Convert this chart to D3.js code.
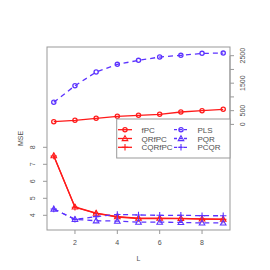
<!DOCTYPE html>
<html>
<head>
<meta charset="utf-8">
<script src="https://cdn.jsdelivr.net/npm/d3@7"></script>
<style>
  body { margin: 0; background: #fff; }
  text { font-family: "Liberation Sans", Arial, sans-serif; fill: #505050; }
</style>
</head>
<body>
<div id="chart"></div>
<script>
// MSE against number of components L

var L = [1, 2, 3, 4, 5, 6, 7, 8, 9];

// upper group, right axis
var fPC = [98, 149, 222, 295, 331, 367, 451, 498, 549];
var PLS = [804, 1407, 1905, 2185, 2331, 2451, 2513, 2585, 2595];

// lower group, left axis
var QRfPC = [7.51, 4.49, 4.13, 3.92, 3.83, 3.83, 3.82, 3.79, 3.78];
var CQRfPC = [7.49, 4.47, 4.11, 3.90, 3.81, 3.81, 3.80, 3.77, 3.76];
var PQR = [4.37, 3.76, 3.68, 3.66, 3.60, 3.60, 3.58, 3.55, 3.55];
var PCQR = [4.37, 3.76, 3.92, 4.05, 4.02, 4.00, 4.00, 3.98, 3.97];

var xTicks = [2, 4, 6, 8];
var leftTicks = [4, 5, 6, 7, 8];
var rightTicks = [0, 500, 1000, 1500, 2000, 2500];
var rightLabels = [0, 500, 1500, 2500];

var RED = "#ff1a1a";
var BLUE = "#5c33ff";

var W = 270, H = 270;
var box = { left: 47, right: 230, top: 47, bottom: 230 };

var svg = d3.select("#chart").append("svg")
  .attr("width", W)
  .attr("height", H);

var x = d3.scaleLinear().domain([0.68, 9.32]).range([box.left, box.right]);
var yL = d3.scaleLinear().domain([4, 8]).range([215.3, 147.3]);
var yR = d3.scaleLinear().domain([0, 2500]).range([124.4, 55.7]);

var series = [
  { name: "fPC", vals: fPC, y: yR, col: RED, dash: null, pch: "circle" },
  { name: "PLS", vals: PLS, y: yR, col: BLUE, dash: "5,4", pch: "circle" },
  { name: "QRfPC", vals: QRfPC, y: yL, col: RED, dash: null, pch: "triangle" },
  { name: "CQRfPC", vals: CQRfPC, y: yL, col: RED, dash: null, pch: "plus" },
  { name: "PQR", vals: PQR, y: yL, col: BLUE, dash: "5,4", pch: "triangle" },
  { name: "PCQR", vals: PCQR, y: yL, col: BLUE, dash: "5,4", pch: "plus" }
];

function drawSymbol(g, pch, cx, cy, col) {
  if (pch == "circle") {
    g.append("circle").attr("cx", cx).attr("cy", cy).attr("r", 2.1)
      .attr("fill", "none").attr("stroke", col).attr("stroke-width", 1.3);
  } else if (pch == "triangle") {
    var s = 2.8;
    g.append("path")
      .attr("d", "M" + cx + "," + (cy - s) + "L" + (cx + s) + "," + (cy + s * 0.75) +
        "L" + (cx - s) + "," + (cy + s * 0.75) + "Z")
      .attr("fill", "none").attr("stroke", col).attr("stroke-width", 1.1);
  } else {
    var p = 3.2;
    g.append("path")
      .attr("d", "M" + (cx - p) + "," + cy + "H" + (cx + p) + "M" + cx + "," + (cy - p) + "V" + (cy + p))
      .attr("stroke", col).attr("stroke-width", 1.1);
  }
}

// lines and points
series.forEach(function (s) {
  var g = svg.append("g");
  var line = d3.line()
    .x(function (d, i) { return x(L[i]); })
    .y(function (d) { return s.y(d); });
  g.append("path")
    .attr("d", line(s.vals))
    .attr("fill", "none")
    .attr("stroke", s.col)
    .attr("stroke-width", 1.3)
    .attr("stroke-dasharray", s.dash);
  s.vals.forEach(function (v, i) {
    drawSymbol(g, s.pch, x(L[i]), s.y(v), s.col);
  });
});

// box
svg.append("rect")
  .attr("x", box.left).attr("y", box.top)
  .attr("width", box.right - box.left).attr("height", box.bottom - box.top)
  .attr("fill", "none").attr("stroke", "#999").attr("stroke-width", 1);

// bottom axis
var bAxis = svg.append("g");
xTicks.forEach(function (t) {
  bAxis.append("line").attr("x1", x(t)).attr("x2", x(t))
    .attr("y1", box.bottom).attr("y2", box.bottom + 4).attr("stroke", "#999");
  bAxis.append("text").attr("x", x(t)).attr("y", 245)
    .attr("text-anchor", "middle").attr("font-size", "7px").text(t);
});

// left axis
var lAxis = svg.append("g");
leftTicks.forEach(function (t) {
  lAxis.append("line").attr("x1", box.left - 4).attr("x2", box.left)
    .attr("y1", yL(t)).attr("y2", yL(t)).attr("stroke", "#999");
  lAxis.append("text")
    .attr("transform", "translate(35," + yL(t) + ") rotate(-90)")
    .attr("text-anchor", "middle").attr("font-size", "7px").text(t);
});

// right axis
var rAxis = svg.append("g");
rAxis.append("line").attr("x1", box.right).attr("x2", box.right)
  .attr("y1", yR(0)).attr("y2", yR(2500)).attr("stroke", "#999");
rightTicks.forEach(function (t) {
  rAxis.append("line").attr("x1", box.right).attr("x2", box.right + 4)
    .attr("y1", yR(t)).attr("y2", yR(t)).attr("stroke", "#999");
});
rightLabels.forEach(function (t) {
  rAxis.append("text")
    .attr("transform", "translate(245," + yR(t) + ") rotate(-90)")
    .attr("text-anchor", "middle").attr("font-size", "7px").text(t);
});

// axis titles
svg.append("text").attr("x", (box.left + box.right) / 2).attr("y", 261)
  .attr("text-anchor", "middle").attr("font-size", "7px").text("L");
svg.append("text")
  .attr("transform", "translate(23," + (box.top + box.bottom) / 2 + ") rotate(-90)")
  .attr("text-anchor", "middle").attr("font-size", "7px").text("MSE");

// legend
var leg = svg.append("g");
leg.append("rect")
  .attr("x", 116.7).attr("y", 119).attr("width", box.right - 116.7).attr("height", 39)
  .attr("fill", "#fff").attr("stroke", "#999");

var legCols = [
  [series[0], series[2], series[3]],
  [series[1], series[4], series[5]]
];
var colX = [118, 174];
var rowY = [129.7, 138.5, 147.3];
legCols.forEach(function (col, c) {
  col.forEach(function (s, r) {
    var lx = colX[c], ly = rowY[r];
    leg.append("line").attr("x1", lx).attr("x2", lx + 14)
      .attr("y1", ly).attr("y2", ly)
      .attr("stroke", s.col).attr("stroke-width", 1.3)
      .attr("stroke-dasharray", s.dash ? "3,2" : null);
    drawSymbol(leg, s.pch, lx + 7, ly, s.col);
    leg.append("text").attr("x", lx + 23.5).attr("y", ly + 3)
      .attr("font-size", "8px").text(s.name);
  });
});
</script>
</body>
</html>
